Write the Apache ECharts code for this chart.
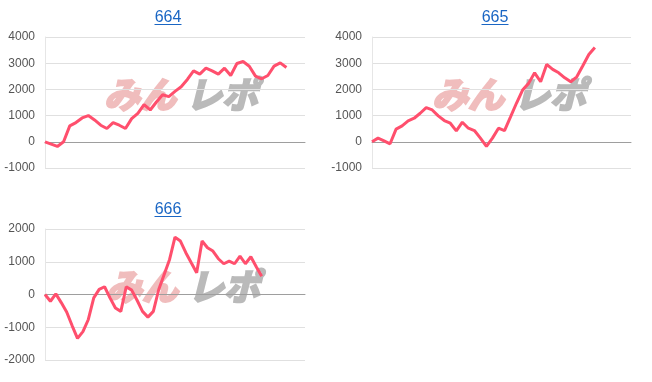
<!DOCTYPE html>
<html><head><meta charset="utf-8">
<script src="https://cdn.jsdelivr.net/npm/echarts@6/dist/echarts.min.js"></script>
<style>html,body{margin:0;padding:0;background:#fff}#c{width:652px;height:382px}</style>
</head><body><div id="c"></div>
<script>
const titles = ['664', '665', '666'];
const s664 = [0,-90,-177,0,608,734,911,1000,835,633,506,734,633,506,886,1089,1418,1215,1519,1797,1722,1924,2101,2380,2709,2582,2810,2709,2582,2810,2532,2987,3063,2886,2506,2405,2532,2886,3013,2835];
const s665 = [0,140,38,-76,482,608,798,899,1089,1304,1216,988,811,709,418,747,519,430,140,-177,140,519,430,950,1480,1976,2230,2633,2291,2953,2763,2633,2443,2291,2481,2900,3330,3600];
const s666 = [0,-206,20,-247,-536,-948,-1340,-1134,-763,-103,155,237,-103,-412,-515,237,134,-175,-515,-690,-515,153,612,1071,1750,1633,1276,969,663,1633,1429,1327,1092,939,1020,939,1173,939,1153,847,561];
const catCount = [43, 44, 49];
const yRange = [[-1000, 4000], [-1000, 4000], [-2000, 2000]];
const yStep = 1000;

const seriesData = [s664, s665, s666];
const grids = [
  {left: 45, top: 37, width: 260, height: 131},
  {left: 372, top: 37, width: 259, height: 131},
  {left: 45, top: 229, width: 260, height: 131}
];
const titlePos = [[168, 18], [495, 18], [168, 210]];
const logoPos = [[104, 94], [432, 94], [106, 286]];
const lineColor = '#ff4f6d';
const linkColor = '#1a66c4';

const chart = echarts.init(document.getElementById('c'));
const graphic = [];
titles.forEach((t, i) => {
  const [cx, cy] = titlePos[i];
  graphic.push({type: 'text', x: cx, y: cy, z: 10,
    style: {text: t, font: '16px Arial', fill: linkColor, align: 'center', verticalAlign: 'middle'}});
  graphic.push({type: 'line', z: 10, shape: {x1: cx - 13.5, y1: cy + 6.5, x2: cx + 13.5, y2: cy + 6.5},
    style: {stroke: linkColor, lineWidth: 1}});
  const [lx, ly] = logoPos[i];
  graphic.push({type: 'text', x: lx, y: ly, z: 0,
    style: {text: 'みん', font: 'italic bold 36px "Noto Sans CJK JP"', fill: '#f0bdbd',
      stroke: '#f0bdbd', lineWidth: 2.5, verticalAlign: 'middle'}});
  graphic.push({type: 'text', x: lx + 82, y: ly, z: 0,
    style: {text: 'レポ', font: 'italic bold 36px "Noto Sans CJK JP"', fill: '#bababa',
      stroke: '#bababa', lineWidth: 2.5, verticalAlign: 'middle'}});
});

chart.setOption({
  animation: false,
  graphic: graphic,
  grid: grids,
  xAxis: grids.map((g, i) => ({
    type: 'category', gridIndex: i, boundaryGap: false,
    data: Array.from({length: catCount[i]}, (_, k) => k),
    axisLine: {show: true, onZero: true, lineStyle: {color: '#9e9e9e', width: 1}},
    axisTick: {show: false}, axisLabel: {show: false}, splitLine: {show: false}
  })),
  yAxis: grids.map((g, i) => ({
    type: 'value', gridIndex: i, min: yRange[i][0], max: yRange[i][1], interval: yStep,
    axisLine: {show: true, lineStyle: {color: '#e6e6e6'}},
    axisTick: {show: false},
    axisLabel: {color: '#555', fontSize: 12, fontFamily: 'Arial', margin: 10, formatter: v => String(v)},
    splitLine: {lineStyle: {color: '#e0e0e0'}}
  })),
  series: seriesData.map((d, i) => ({
    type: 'line', xAxisIndex: i, yAxisIndex: i, data: d,
    showSymbol: false, symbol: 'none', z: 5,
    lineStyle: {color: lineColor, width: 3}
  }))
});
</script></body></html>
